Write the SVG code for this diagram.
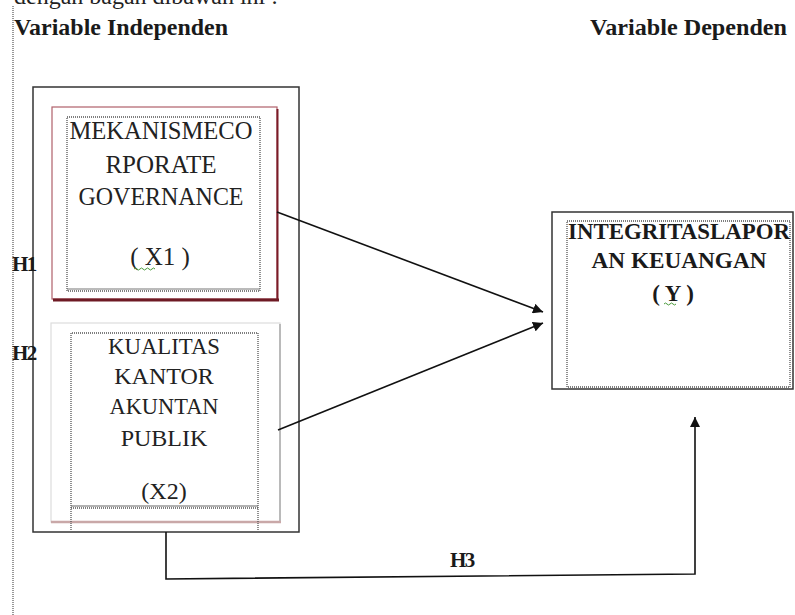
<svg xmlns="http://www.w3.org/2000/svg" width="795" height="615" viewBox="0 0 795 615">
<defs>
<style>
.hd{font-family:"Liberation Serif","Times New Roman",Times,serif;font-weight:bold;font-size:24px;fill:#1a1a1a}
.bt{font-family:"Liberation Serif","Times New Roman",Times,serif;font-size:25px;fill:#222;text-anchor:middle}
.b2{font-family:"Liberation Serif","Times New Roman",Times,serif;font-size:24px;fill:#222;text-anchor:middle}
.bb{font-family:"Liberation Serif","Times New Roman",Times,serif;font-size:23px;font-weight:bold;fill:#1a1a1a;text-anchor:middle}
.hl{font-family:"Liberation Serif","Times New Roman",Times,serif;font-weight:bold;font-size:21px;fill:#1a1a1a;letter-spacing:-1.5px}
.dot{fill:none;stroke:#555;stroke-width:1.3;stroke-dasharray:1 1}
.ln{fill:none;stroke:#111;stroke-width:1.6}
.sq{fill:none;stroke:#4a9a3a;stroke-width:1}
</style>
<marker id="ah" viewBox="0 0 10 10" refX="10" refY="5" markerWidth="10" markerHeight="10" markerUnits="userSpaceOnUse" orient="auto">
<path d="M0,0 L10,5 L0,10 Z" fill="#111"/>
</marker>
</defs>
<rect width="795" height="615" fill="#fff"/>
<text x="14" y="4" font-family="Liberation Serif,Times New Roman,serif" font-size="24" fill="#222">dengan bagan dibawah ini :</text>
<line x1="13" y1="6" x2="13" y2="615" stroke="#777" stroke-width="1.5" stroke-dasharray="1 1"/>
<text class="hd" x="14" y="35" textLength="214" lengthAdjust="spacingAndGlyphs">Variable Independen</text>
<text class="hd" x="590" y="35" textLength="197" lengthAdjust="spacingAndGlyphs">Variable Dependen</text>

<g id="outer">
<rect x="33" y="87" width="266" height="445" fill="none" stroke="#333" stroke-width="1.5"/>
</g>

<g id="x1">
<rect x="52" y="107" width="225" height="192" fill="#fff" stroke="#b0606a" stroke-width="1.2"/>
<line x1="277.5" y1="109" x2="277.5" y2="300" stroke="#7a1c28" stroke-width="2"/>
<line x1="53" y1="300" x2="279" y2="300" stroke="#6e1a24" stroke-width="3"/>
<rect class="dot" x="67" y="117" width="193" height="174"/>
<line x1="67" y1="289" x2="260" y2="289" stroke="#777" stroke-width="1.2"/>
<text class="bt" x="161" y="139" textLength="183" lengthAdjust="spacingAndGlyphs">MEKANISMECO</text>
<text class="bt" x="161" y="173">RPORATE</text>
<text class="bt" x="161" y="205" textLength="165" lengthAdjust="spacingAndGlyphs">GOVERNANCE</text>
<text class="bt" x="160" y="265">( X1 )</text>
<path class="sq" d="M134,269 q1.5,-2 3,0 t3,0 t3,0 t3,0 t3,0 t3,0 t3,0"/>
</g>

<g id="x2">
<rect x="51" y="323" width="229" height="199" fill="#fff" stroke="#ddd" stroke-width="1.2"/>
<line x1="280" y1="324" x2="280" y2="523" stroke="#999" stroke-width="1.2"/>
<line x1="51" y1="522" x2="281" y2="522" stroke="#c9a8a8" stroke-width="2.5"/>
<path class="dot" d="M71,530 V333 H258 V530"/>
<line x1="71" y1="506" x2="258" y2="506" stroke="#666" stroke-width="1.2"/>
<line x1="71" y1="508" x2="258" y2="508" class="dot"/>
<text class="b2" x="164" y="354" textLength="112" lengthAdjust="spacingAndGlyphs">KUALITAS</text>
<text class="b2" x="164" y="384">KANTOR</text>
<text class="b2" x="164" y="414" textLength="109" lengthAdjust="spacingAndGlyphs">AKUNTAN</text>
<text class="b2" x="164" y="446">PUBLIK</text>
<text class="b2" x="164" y="499">(X2)</text>
</g>

<g id="y">
<rect x="552" y="212" width="241" height="177" fill="#fff" stroke="#333" stroke-width="1.5"/>
<rect class="dot" x="567" y="221" width="223" height="166"/>
<text class="bb" x="679" y="239" textLength="222" lengthAdjust="spacingAndGlyphs">INTEGRITASLAPOR</text>
<text class="bb" x="679" y="268" textLength="175" lengthAdjust="spacingAndGlyphs">AN KEUANGAN</text>
<text class="bb" x="673" y="301">( Y )</text>
<path class="sq" d="M664,304 q1.5,-2 3,0 t3,0 t3,0 t3,0"/>
</g>

<g id="labels">
<text class="hl" x="12" y="271">H1</text>
<text class="hl" x="12" y="360">H2</text>
<text class="hl" x="450" y="567">H3</text>
</g>

<g id="connectors">
<line class="ln" x1="277" y1="212" x2="543" y2="312" marker-end="url(#ah)"/>
<line class="ln" x1="278" y1="430" x2="543" y2="323" marker-end="url(#ah)"/>
<polyline class="ln" points="166,532 166,579 695,574 695,417" marker-end="url(#ah)"/>
</g>
</svg>
